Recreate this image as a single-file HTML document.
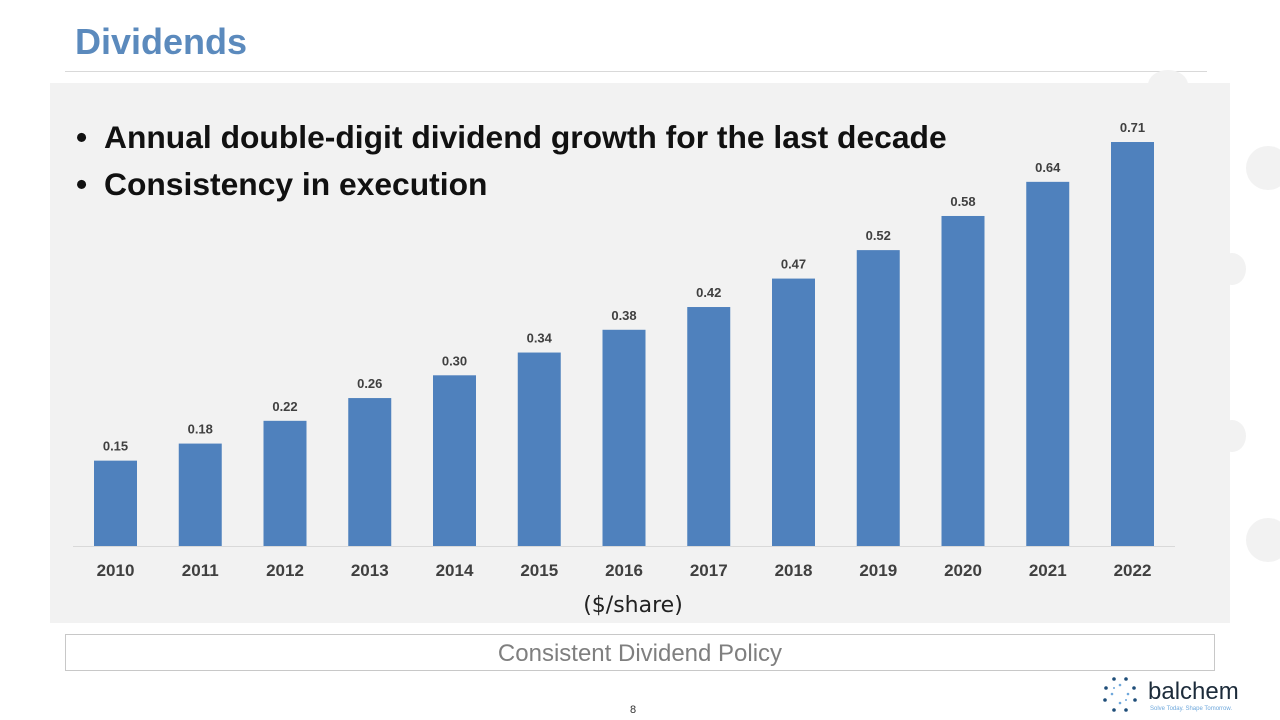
<!DOCTYPE html>
<html><head><meta charset="utf-8"><style>
body{margin:0;width:1280px;height:720px;background:#fff;position:relative;overflow:hidden;font-family:"Liberation Sans",sans-serif}
.abs{position:absolute}
.circ{position:absolute;border-radius:50%;background:#f2f2f2}
.bl{position:relative;padding-left:28px}
.bl span{position:absolute;left:0}
</style></head><body>
<div class="abs" style="left:75px;top:21px;font-size:36px;font-weight:bold;color:#5b8abd">Dividends</div>
<div class="abs" style="left:65px;top:71px;width:1142px;height:1px;background:#d9d9d9"></div>
<div class="circ" style="left:1148px;top:70px;width:40px;height:30px"></div>
<div class="circ" style="left:1246px;top:146px;width:44px;height:44px"></div>
<div class="circ" style="left:1218px;top:253px;width:28px;height:32px"></div>
<div class="circ" style="left:1218px;top:420px;width:28px;height:32px"></div>
<div class="circ" style="left:1246px;top:518px;width:44px;height:44px"></div>
<div class="abs" style="left:50px;top:83px;width:1180px;height:540px;background:#f2f2f2"></div>
<div class="abs" style="left:76px;top:114px;font-size:31.8px;font-weight:bold;color:#111;line-height:47px;white-space:nowrap">
<div class="bl"><span>•</span>Annual double-digit dividend growth for the last decade</div>
<div class="bl"><span>•</span>Consistency in execution</div>
</div>
<svg class="abs" style="left:0;top:0" width="1280" height="720">
<g id="bars"></g>
<line x1="73" x2="1175" y1="546.5" y2="546.5" stroke="#d9d9d9" stroke-width="1"/>
<text x="633" y="612" text-anchor="middle" font-size="22" fill="#222" font-family="DejaVu Sans, sans-serif">($/share)</text>
</svg>
<div class="abs" style="left:65px;top:634px;width:1150px;height:37px;border:1px solid #c8c8c8;box-sizing:border-box;text-align:center;line-height:38px;font-size:24px;color:#7f7f7f">Consistent Dividend Policy</div>
<div class="abs" style="left:630px;top:704px;font-size:11px;color:#333">8</div>
<div class="abs" style="left:1102px;top:676px;width:150px;height:40px">
<svg width="40" height="40" style="position:absolute;left:0;top:0">
<g fill="#1f4e79"><circle cx="12" cy="3" r="1.8"/><circle cx="24" cy="3" r="1.8"/><circle cx="4" cy="12" r="1.8"/><circle cx="32" cy="12" r="1.8"/><circle cx="3" cy="24" r="1.8"/><circle cx="33" cy="24" r="1.8"/><circle cx="12" cy="34" r="1.8"/><circle cx="24" cy="34" r="1.8"/></g>
<g fill="#6fa8dc"><circle cx="18" cy="9" r="1.3"/><circle cx="10" cy="18" r="1.3"/><circle cx="26" cy="18" r="1.3"/><circle cx="18" cy="27" r="1.3"/><circle cx="12" cy="12" r="1"/><circle cx="24" cy="24" r="1"/></g></svg>
<div style="position:absolute;left:46px;top:2px;font-size:24px;color:#1c2b3a">balchem</div>
<div style="position:absolute;left:48px;top:30px;font-size:6px;color:#6fa8dc">Solve Today. Shape Tomorrow.</div>
</div>
<script>
const years=["2010","2011","2012","2013","2014","2015","2016","2017","2018","2019","2020","2021","2022"];
const dividends=[0.15,0.18,0.22,0.26,0.30,0.34,0.38,0.42,0.47,0.52,0.58,0.64,0.71];
const valueLabels=["0.15","0.18","0.22","0.26","0.30","0.34","0.38","0.42","0.47","0.52","0.58","0.64","0.71"];
const base=546, scale=569, x0=115.5, step=84.75, bw=43;
const xs=i=>x0+i*step, ys=v=>base-v*scale;
const g=document.getElementById('bars'), NS="http://www.w3.org/2000/svg";
years.forEach((yr,i)=>{
 const v=dividends[i];
 const r=document.createElementNS(NS,'rect');
 r.setAttribute('x',xs(i)-bw/2);r.setAttribute('y',ys(v));r.setAttribute('width',bw);r.setAttribute('height',base-ys(v));r.setAttribute('fill','#4f81bd');
 
 
 g.appendChild(r);
 const t=document.createElementNS(NS,'text');
 t.setAttribute('x',xs(i));t.setAttribute('y',ys(v)-10);t.setAttribute('text-anchor','middle');t.setAttribute('font-size','13');t.setAttribute('font-weight','bold');t.setAttribute('fill','#404040');t.setAttribute('font-family','Liberation Sans, sans-serif');
 t.textContent=valueLabels[i];
 
 
 g.appendChild(t);
 const l=document.createElementNS(NS,'text');
 l.setAttribute('x',xs(i));l.setAttribute('y',576);l.setAttribute('text-anchor','middle');l.setAttribute('font-size','17');l.setAttribute('font-weight','bold');l.setAttribute('fill','#404040');l.setAttribute('font-family','Liberation Sans, sans-serif');
 l.textContent=yr;
 
 
 g.appendChild(l);
});
</script>
</body></html>
